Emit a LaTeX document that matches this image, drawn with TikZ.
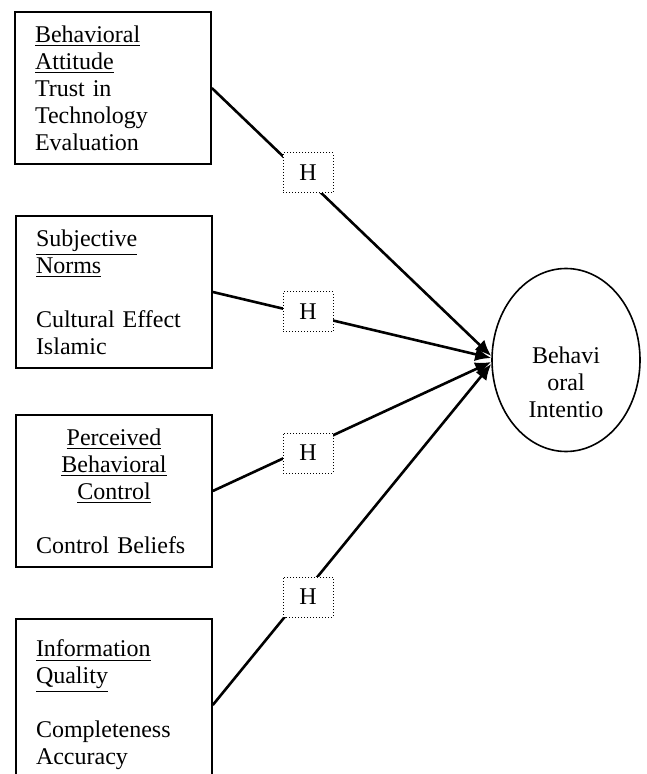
\documentclass[tikz,border=0pt]{standalone}
\usepackage{fontspec}
\setmainfont{Liberation Serif}
\usetikzlibrary{shapes.geometric,arrows.meta}

\begin{document}
\begin{tikzpicture}[x=0.5pt,y=-0.5pt,
    font=\fontsize{12}{13.5}\selectfont,
    factorbox/.style={draw, line width=0.8pt, text width=78pt, inner xsep=10pt, minimum height=76pt, align=left},
    hbox/.style={draw, densely dotted, line width=0.5pt, fill=white, minimum width=25pt, minimum height=20pt, inner sep=0pt},
    link/.style={line width=1.3pt, -{Latex[length=8pt,width=7pt]}}]
    \useasboundingbox (0,0) rectangle (646,774);

    % Factors
    \node[factorbox] (attitude) at (113,88) {\underline{Behavioral}\\\underline{Attitude}\\Trust in\\Technology\\Evaluation};
    \node[factorbox] (norms) at (114,292) {\underline{Subjective}\\\underline{Norms}\\[13.5pt]Cultural Effect\\Islamic};
    \node[factorbox] (control) at (114,491) {\makebox[78pt]{\underline{Perceived}}\\\makebox[78pt]{\underline{Behavioral}}\\\makebox[78pt]{\underline{Control}}\\[13.5pt]Control Beliefs};
    \node[factorbox, minimum height=86pt] (quality) at (114,705) {\underline{Information}\\\underline{Quality}\\[13.5pt]Completeness\\Accuracy};

    % Dependent variable
    \node[draw, ellipse, line width=0.8pt, minimum width=74pt, minimum height=91.5pt, inner sep=0pt] (intention) at (566,360) {};
    \node[align=center] (intentiontext) at (566,382) {Behavi\\oral\\Intentio};

    % Paths
    \draw[link] (attitude.east) -- ([yshift=2pt]intention.west);
    \draw[link] (norms.east) -- ([yshift=1pt]intention.west);
    \draw[link] (control.east) -- ([yshift=-1pt]intention.west);
    \draw[link] (quality.east) -- ([yshift=-2pt]intention.west);

    % Hypotheses
    \node[hbox] (h1) at (308,173) {H};
    \node[hbox] (h2) at (308,312) {H};
    \node[hbox] (h3) at (308,453) {H};
    \node[hbox] (h4) at (308,597) {H};
\end{tikzpicture}
\end{document}
